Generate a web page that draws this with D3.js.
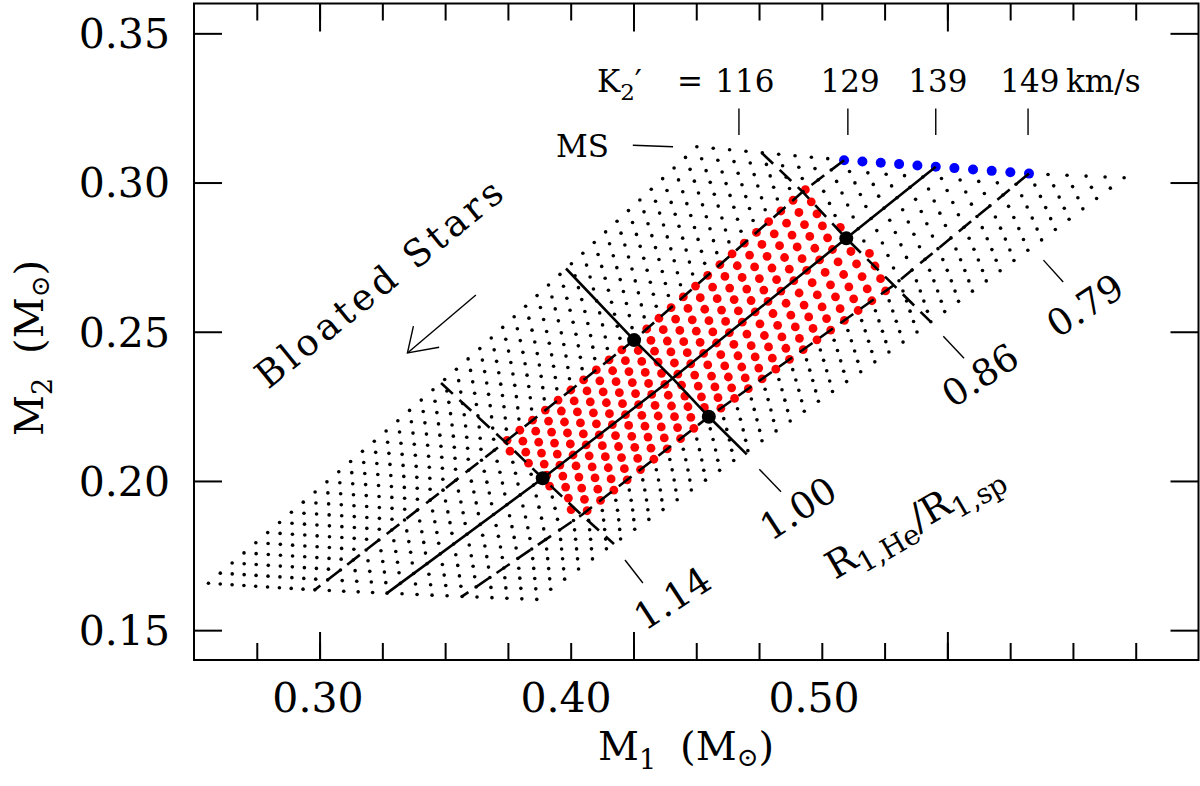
<!DOCTYPE html>
<html>
<head>
<meta charset="utf-8">
<script src="https://cdn.jsdelivr.net/npm/d3@7"></script>
<style>
  body { margin: 0; background: #fff; }
  svg { display: block; font-family: 'DejaVu Serif', serif; }
</style>
</head>
<body>
<div id="chart"></div>
<script>
// axis ranges, solar masses
const m1Domain = [0.26, 0.58];
const m2Domain = [0.14, 0.36];
const m1Minor = [0.28, 0.30, 0.32, 0.34, 0.36, 0.38, 0.40, 0.42, 0.44, 0.46, 0.48, 0.50, 0.52, 0.54, 0.56];
const m1Major = [0.30, 0.40, 0.50];
const m2Major = [0.15, 0.20, 0.25, 0.30, 0.35];
// the printed M1 labels sit on their own (slightly off) scale in the original figure
const m1TickLabels = [0.30, 0.40, 0.50];
const m1LabelDomain = [0.25, 0.655];

// model grid: K2' columns (km/s) and number of rows from the MS down to the most bloated
const gridK = [111, 113, 115, 117, 119, 121, 123, 125, 127, 129, 131, 133, 135,
               137, 139, 141, 143, 145, 147, 149, 151, 153, 155, 157, 159];
const gridRowCount = 43;

// tracks of constant K2', MS end first, [M1, M2]
const trackKs = [111, 129, 139, 149, 159];
const trackK111 = [[0.4202, 0.3120], [0.3815, 0.2740], [0.3511, 0.2444], [0.3203, 0.2159], [0.2906, 0.1891], [0.2646, 0.1657]];
const trackK129 = [[0.4671, 0.3075], [0.4539, 0.2969], [0.4002, 0.2472], [0.3591, 0.2131], [0.2985, 0.1635]];
const trackK139 = [[0.4963, 0.3053], [0.4678, 0.2813], [0.4125, 0.2344], [0.3711, 0.2009], [0.3215, 0.1624]];
const trackK149 = [[0.5260, 0.3030], [0.4829, 0.2656], [0.4240, 0.2215], [0.3835, 0.1886], [0.3454, 0.1613]];
const trackK159 = [[0.5563, 0.3016], [0.5260, 0.2776], [0.4876, 0.2478], [0.4308, 0.2060], [0.3909, 0.1769], [0.3692, 0.1603]];

// contours of R1,He/R1,sp
const r114Line = [[0.3387, 0.2328], [0.3591, 0.2131], [0.3711, 0.2009], [0.3835, 0.1886], [0.3938, 0.1789]];
const r100Line = [[0.3785, 0.2712], [0.4002, 0.2472], [0.4125, 0.2344], [0.4240, 0.2215], [0.4361, 0.2089]];
const r086Line = [[0.4408, 0.3100], [0.4539, 0.2969], [0.4678, 0.2813], [0.4829, 0.2656], [0.4948, 0.2532]];

// selected solutions and highlighted ranges
const markedPoints = [[0.3711, 0.2009], [0.4002, 0.2472], [0.4240, 0.2215], [0.4678, 0.2813]];
const redK = [129, 149];
const blueK = [129, 149];

// annotations
const kLabels = ['116', '129', '139', '149'];
const kLabelM1 = [0.4355, 0.4690, 0.4970, 0.5263];
const kTickM1 = [0.4336, 0.4683, 0.4963, 0.5257];
const rLabels = ['1.14', '1.00', '0.86', '0.79'];
const rLabelAt = [[0.4123, 0.1608], [0.4524, 0.1909], [0.5104, 0.2355], [0.5438, 0.2589]];
const rTicks = [
  [[0.3973, 0.1735], [0.4030, 0.1658]],
  [[0.4401, 0.2039], [0.4470, 0.1964]],
  [[0.4987, 0.2485], [0.5053, 0.2411]],
  [[0.5306, 0.2740], [0.5369, 0.2667]]
];
const msLeader = [[0.3998, 0.3125], [0.4126, 0.3120]];
const bloatArrow = [[0.3498, 0.2623], [0.3280, 0.2429]];
const bloatHead = [[0.3299, 0.2519], [0.3280, 0.2429], [0.3381, 0.2448]];

const width = 1200, height = 786;
const margin = { top: 3.5, right: 1.5, bottom: 126, left: 194 };

const svg = d3.select('#chart').append('svg')
    .attr('width', width)
    .attr('height', height);

const x = d3.scaleLinear().domain(m1Domain).range([margin.left, width - margin.right]);
const y = d3.scaleLinear().domain(m2Domain).range([height - margin.bottom, margin.top]);
const xLabel = d3.scaleLinear().domain(m1LabelDomain).range(x.range());
const px = d => [x(d[0]), y(d[1])];

// each track becomes a scale from fractional arc length to a pixel position
const trackScales = [trackK111, trackK129, trackK139, trackK149, trackK159].map(track => {
    const pts = track.map(px);
    const cum = [0];
    for (let i = 1; i < pts.length; i++) {
        cum.push(cum[i - 1] + Math.hypot(pts[i][0] - pts[i - 1][0], pts[i][1] - pts[i - 1][1]));
    }
    const total = cum[cum.length - 1];
    return d3.scaleLinear().domain(cum.map(c => c / total)).range(pts);
});

function gridPosition(k, f) {
    const across = trackScales.map(s => s(f).slice());
    return d3.scaleLinear().domain(trackKs).range(across)(k).slice();
}

// signed distance from a segment, used to cut the red band between two contours
function side(a, b, p) {
    const dx = b[0] - a[0], dy = b[1] - a[1];
    return (dx * (p[1] - a[1]) - dy * (p[0] - a[0])) / Math.hypot(dx, dy);
}
const lowA = px(r114Line[1]), lowB = px(r114Line[3]);
const highA = px(r086Line[1]), highB = px(r086Line[3]);

const grid = [];
gridK.forEach(k => {
    for (let j = 0; j < gridRowCount; j++) {
        const p = gridPosition(k, j / (gridRowCount - 1));
        let kind = 'grid';
        if (j === 0 && k >= blueK[0] && k <= blueK[1]) kind = 'ms';
        else if (k >= redK[0] && k <= redK[1] &&
                 side(lowA, lowB, p) < 5 && side(highA, highB, p) > -5) kind = 'fit';
        grid.push({ k, j, p, kind });
    }
});

const g = svg.append('g');

g.selectAll('circle.grid')
    .data(grid.filter(d => d.kind === 'grid'))
    .enter().append('circle')
    .attr('class', 'grid')
    .attr('cx', d => d.p[0])
    .attr('cy', d => d.p[1])
    .attr('r', 1.8)
    .attr('fill', '#000');

g.selectAll('circle.fit')
    .data(grid.filter(d => d.kind === 'fit'))
    .enter().append('circle')
    .attr('class', 'fit')
    .attr('cx', d => d.p[0])
    .attr('cy', d => d.p[1])
    .attr('r', 4.4)
    .attr('fill', '#ff0000');

g.selectAll('circle.ms')
    .data(grid.filter(d => d.kind === 'ms'))
    .enter().append('circle')
    .attr('class', 'ms')
    .attr('cx', d => d.p[0])
    .attr('cy', d => d.p[1])
    .attr('r', 5)
    .attr('fill', '#0000ff');

const line = d3.line().x(d => x(d[0])).y(d => y(d[1]));

const contours = [
    { pts: trackK129, dash: '16,9' },
    { pts: trackK139, dash: null },
    { pts: trackK149, dash: '16,9' },
    { pts: r114Line, dash: '16,9' },
    { pts: r100Line, dash: null },
    { pts: r086Line, dash: '16,9' }
];
g.selectAll('path.contour')
    .data(contours)
    .enter().append('path')
    .attr('class', 'contour')
    .attr('d', d => line(d.pts))
    .attr('fill', 'none')
    .attr('stroke', '#000')
    .attr('stroke-width', 2.6)
    .attr('stroke-dasharray', d => d.dash);

g.selectAll('circle.marked')
    .data(markedPoints)
    .enter().append('circle')
    .attr('class', 'marked')
    .attr('cx', d => x(d[0]))
    .attr('cy', d => y(d[1]))
    .attr('r', 7)
    .attr('fill', '#000');

// thin annotation strokes
const thin = [msLeader, bloatArrow, bloatHead].concat(rTicks)
    .concat(kTickM1.map(m => [[m, 0.3248], [m, 0.3159]]));
g.selectAll('path.thin')
    .data(thin)
    .enter().append('path')
    .attr('class', 'thin')
    .attr('d', d => line(d))
    .attr('fill', 'none')
    .attr('stroke', '#000')
    .attr('stroke-width', 1.4);

// frame and ticks
const y0 = height - margin.bottom, x1 = width - margin.right;
function tickAxis(axis, tx, ty) {
    const a = svg.append('g').attr('transform', `translate(${tx},${ty})`).call(axis);
    a.select('.domain').remove();
    a.selectAll('line').attr('stroke', '#000').attr('stroke-width', 2);
}
tickAxis(d3.axisBottom(x).tickValues(m1Minor).tickSize(-17).tickFormat(''), 0, y0);
tickAxis(d3.axisBottom(x).tickValues(m1Major).tickSize(-28).tickFormat(''), 0, y0);
tickAxis(d3.axisTop(x).tickValues(m1Minor).tickSize(-17).tickFormat(''), 0, margin.top);
tickAxis(d3.axisTop(x).tickValues(m1Major).tickSize(-28).tickFormat(''), 0, margin.top);
tickAxis(d3.axisLeft(y).tickValues(m2Major).tickSize(-28).tickFormat(''), margin.left, 0);
tickAxis(d3.axisRight(y).tickValues(m2Major).tickSize(-28).tickFormat(''), x1, 0);

svg.append('rect')
    .attr('x', margin.left)
    .attr('y', margin.top)
    .attr('width', x1 - margin.left)
    .attr('height', y0 - margin.top)
    .attr('fill', 'none')
    .attr('stroke', '#000')
    .attr('stroke-width', 2);

svg.selectAll('text.ylab')
    .data(m2Major)
    .enter().append('text')
    .attr('class', 'ylab')
    .attr('x', 170)
    .attr('y', d => y(d))
    .attr('dy', '0.36em')
    .attr('text-anchor', 'end')
    .attr('font-size', 41)
    .text(d => d.toFixed(2));

svg.selectAll('text.xlab')
    .data(m1TickLabels)
    .enter().append('text')
    .attr('class', 'xlab')
    .attr('x', d => xLabel(d))
    .attr('y', y0 + 52)
    .attr('text-anchor', 'middle')
    .attr('font-size', 41)
    .text(d => d.toFixed(2));

// axis titles
const xt = svg.append('text')
    .attr('x', 686).attr('y', 760)
    .attr('text-anchor', 'middle')
    .attr('font-size', 40);
xt.append('tspan').text('M');
xt.append('tspan').attr('font-size', 27).attr('dy', 9).text('1');
xt.append('tspan').attr('dy', -9).attr('dx', 24).text('(M');
xt.append('tspan').attr('font-size', 26).attr('dy', 6).text('\u2299');
xt.append('tspan').attr('dy', -6).text(')');

const yt = svg.append('text')
    .attr('transform', 'translate(43,348) rotate(-90)')
    .attr('text-anchor', 'middle')
    .attr('font-size', 40);
yt.append('tspan').text('M');
yt.append('tspan').attr('font-size', 27).attr('dy', 9).text('2');
yt.append('tspan').attr('dy', -9).attr('dx', 24).text('(M');
yt.append('tspan').attr('font-size', 26).attr('dy', 6).text('\u2299');
yt.append('tspan').attr('dy', -6).text(')');

// K2' header
const kh = svg.append('text')
    .attr('x', x(0.3884)).attr('y', y(0.3303))
    .attr('font-size', 31);
kh.append('tspan').text('K');
kh.append('tspan').attr('font-size', 23).attr('dy', 8).text('2');
kh.append('tspan').attr('dy', -8).text('\u2032');
svg.append('text')
    .attr('x', x(0.4180)).attr('y', y(0.3303))
    .attr('text-anchor', 'middle')
    .attr('font-size', 31)
    .text('=');
svg.selectAll('text.klab')
    .data(kLabels)
    .enter().append('text')
    .attr('class', 'klab')
    .attr('x', (d, i) => x(kLabelM1[i]))
    .attr('y', y(0.3303))
    .attr('text-anchor', 'middle')
    .attr('font-size', 31)
    .text(d => d);
svg.append('text')
    .attr('x', x(0.5378)).attr('y', y(0.3303))
    .attr('font-size', 31)
    .text('km/s');

svg.append('text')
    .attr('x', x(0.3753)).attr('y', y(0.3085))
    .attr('font-size', 31)
    .text('MS');

svg.append('text')
    .attr('transform', `translate(${x(0.2836)},${y(0.2305)}) rotate(-39)`)
    .attr('font-size', 37)
    .attr('textLength', 306)
    .attr('lengthAdjust', 'spacing')
    .text('Bloated Stars');

svg.selectAll('text.rlab')
    .data(rLabels)
    .enter().append('text')
    .attr('class', 'rlab')
    .attr('transform', (d, i) => `translate(${x(rLabelAt[i][0])},${y(rLabelAt[i][1])}) rotate(-33)`)
    .attr('text-anchor', 'middle')
    .attr('dy', '0.36em')
    .attr('font-size', 37)
    .text(d => d);

const rt = svg.append('text')
    .attr('transform', `translate(${x(0.4642)},${y(0.1668)}) rotate(-30)`)
    .attr('font-size', 38);
rt.append('tspan').text('R');
rt.append('tspan').attr('font-size', 28).attr('dy', 9).text('1,He');
rt.append('tspan').attr('dy', -9).text('/R');
rt.append('tspan').attr('font-size', 28).attr('dy', 9).text('1,sp');
</script>
</body>
</html>
